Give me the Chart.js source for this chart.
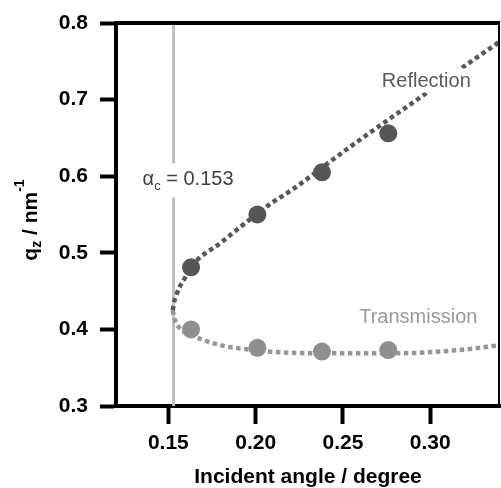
<!DOCTYPE html>
<html>
<head>
<meta charset="utf-8">
<script src="https://cdn.jsdelivr.net/npm/chart.js@4"></script>
<style>
  html, body { margin: 0; padding: 0; background: #fff; }
  canvas { display: block; }
</style>
</head>
<body>
<canvas id="chart" width="501" height="488"></canvas>
<script>
// measured peaks
const reflAngle = [0.163, 0.201, 0.238, 0.276];
const reflQz = [0.481, 0.550, 0.605, 0.656];
const transAngle = [0.163, 0.201, 0.238, 0.276];
const transQz = [0.400, 0.376, 0.371, 0.373];

// calculated branches
const reflCurveAngle = [0.1525, 0.1533, 0.1545, 0.1561, 0.1592, 0.1628, 0.1805, 0.2073, 0.2226, 0.2426, 0.2588, 0.2950, 0.3180, 0.3400];
const reflCurveQz = [0.425, 0.436, 0.444, 0.454, 0.466, 0.481, 0.514, 0.562, 0.585, 0.619, 0.646, 0.704, 0.741, 0.776];
const transCurveAngle = [0.1525, 0.1538, 0.1567, 0.1632, 0.1689, 0.1825, 0.1918, 0.2073, 0.2319, 0.2455, 0.2693, 0.2837, 0.3206, 0.3400];
const transCurveQz = [0.425, 0.412, 0.401, 0.393, 0.387, 0.378, 0.375, 0.371, 0.369, 0.369, 0.369, 0.369, 0.374, 0.3795];

const criticalAngle = 0.153;
const xTicks = [0.15, 0.20, 0.25, 0.30];
const yTicks = [0.3, 0.4, 0.5, 0.6, 0.7, 0.8];

const FONT = "'Liberation Sans', Arial, sans-serif";

function toPoints(xs, ys) {
    return xs.map((x, i) => ({ x: x, y: ys[i] }));
}

// centered label with a white patch behind it
function drawLabel(ctx, text, cx, base, color) {
    const w = ctx.measureText(text).width;
    ctx.fillStyle = '#fff';
    ctx.fillRect(cx - w / 2 - 2, base - 19, w + 4, 24);
    ctx.fillStyle = color;
    ctx.fillText(text, cx, base);
}

const annotations = {
    id: 'annotations',
    afterDatasetsDraw(chart) {
        const { ctx, chartArea, scales: { x, y } } = chart;
        ctx.save();

        // frame: top and right
        ctx.strokeStyle = '#000';
        ctx.lineWidth = 4;
        ctx.beginPath();
        ctx.moveTo(chartArea.left - 2, chartArea.top);
        ctx.lineTo(chartArea.right, chartArea.top);
        ctx.stroke();
        ctx.lineWidth = 2;
        ctx.beginPath();
        ctx.moveTo(chartArea.right - 1, chartArea.top);
        ctx.lineTo(chartArea.right - 1, chartArea.bottom);
        ctx.stroke();

        // alpha_c label over the critical angle line
        const lineX = x.getPixelForValue(criticalAngle);
        const base = y.getPixelForValue(0.588);
        let lx = lineX - 31;
        ctx.fillStyle = '#fff';
        ctx.fillRect(lx - 2, base - 22, 96, 34);
        ctx.fillStyle = '#404040';
        ctx.textBaseline = 'alphabetic';
        ctx.textAlign = 'left';
        ctx.font = '20px ' + FONT;
        ctx.fillText('α', lx, base);
        lx += ctx.measureText('α').width;
        ctx.font = '13px ' + FONT;
        ctx.fillText('c', lx, base + 5);
        lx += ctx.measureText('c').width;
        ctx.font = '20px ' + FONT;
        ctx.fillText(' = 0.153', lx, base);

        // branch labels
        ctx.textAlign = 'center';
        drawLabel(ctx, 'Reflection', x.getPixelForValue(0.2978), y.getPixelForValue(0.7158), '#5a5a5a');
        drawLabel(ctx, 'Transmission', x.getPixelForValue(0.2932), y.getPixelForValue(0.4085), '#999');

        ctx.restore();
    },
    afterDraw(chart) {
        // y title with sub/superscript
        const ctx = chart.ctx;
        const parts = [
            { t: 'q', size: 21, dy: 0 },
            { t: 'z', size: 14, dy: 4 },
            { t: ' / nm', size: 21, dy: 0 },
            { t: '-1', size: 14, dy: -13 }
        ];
        ctx.save();
        let total = 0;
        parts.forEach(p => {
            ctx.font = 'bold ' + p.size + 'px ' + FONT;
            p.w = ctx.measureText(p.t).width;
            total += p.w;
        });
        ctx.translate(37, 220 + total / 2);
        ctx.rotate(-Math.PI / 2);
        ctx.fillStyle = '#000';
        ctx.textBaseline = 'alphabetic';
        let pos = 0;
        parts.forEach(p => {
            ctx.font = 'bold ' + p.size + 'px ' + FONT;
            ctx.fillText(p.t, pos, p.dy);
            pos += p.w;
        });
        ctx.restore();
    }
};

new Chart(document.getElementById('chart'), {
    type: 'scatter',
    data: {
        datasets: [
            {
                label: 'Reflection',
                data: toPoints(reflAngle, reflQz),
                backgroundColor: '#555',
                borderWidth: 0,
                pointRadius: 9,
                order: 0
            },
            {
                label: 'Transmission',
                data: toPoints(transAngle, transQz),
                backgroundColor: '#8f8f8f',
                borderWidth: 0,
                pointRadius: 9,
                order: 0
            },
            {
                label: 'Reflection calc',
                data: toPoints(reflCurveAngle, reflCurveQz),
                showLine: true,
                pointRadius: 0,
                borderColor: '#585858',
                borderWidth: 4.5,
                borderDash: [4.5, 3.5],
                cubicInterpolationMode: 'monotone',
                order: 1
            },
            {
                label: 'Transmission calc',
                data: toPoints(transCurveAngle, transCurveQz),
                showLine: true,
                pointRadius: 0,
                borderColor: '#969696',
                borderWidth: 4.5,
                borderDash: [4.5, 3.5],
                cubicInterpolationMode: 'monotone',
                order: 1
            },
            {
                label: 'Critical angle',
                data: [{ x: criticalAngle, y: yTicks[0] }, { x: criticalAngle, y: yTicks[yTicks.length - 1] }],
                showLine: true,
                pointRadius: 0,
                borderColor: '#bfbfbf',
                borderWidth: 3,
                order: 2
            }
        ]
    },
    options: {
        responsive: false,
        animation: false,
        layout: {
            autoPadding: false,
            padding: { top: 23, right: 1, left: 0, bottom: 0 }
        },
        plugins: {
            legend: { display: false },
            tooltip: { enabled: false }
        },
        scales: {
            x: {
                type: 'linear',
                min: 0.12,
                max: 0.34,
                afterBuildTicks: s => { s.ticks = xTicks.map(v => ({ value: v })); },
                afterFit: s => {
                    s.height = 82;
                    s.paddingLeft = 0;
                    s.paddingRight = 0;
                },
                border: { display: true, width: 4, color: '#000' },
                grid: { drawOnChartArea: false, drawTicks: true, tickLength: 18, tickWidth: 4, tickColor: '#000' },
                ticks: {
                    padding: 7,
                    color: '#000',
                    font: { family: FONT, size: 21, weight: 'bold' },
                    callback: v => v.toFixed(2)
                },
                title: {
                    display: true,
                    text: 'Incident angle / degree',
                    color: '#000',
                    padding: 0,
                    font: { family: FONT, size: 21, weight: 'bold', lineHeight: 1 }
                }
            },
            y: {
                min: 0.3,
                max: 0.8,
                afterBuildTicks: s => { s.ticks = yTicks.map(v => ({ value: v })); },
                afterFit: s => {
                    s.width = 116;
                    s.paddingTop = 0;
                    s.paddingBottom = 0;
                },
                border: { display: true, width: 4, color: '#000' },
                grid: { drawOnChartArea: false, drawTicks: true, tickLength: 16, tickWidth: 4, tickColor: '#000' },
                ticks: {
                    padding: 12,
                    color: '#000',
                    font: { family: FONT, size: 21, weight: 'bold' },
                    callback: v => v.toFixed(1)
                }
            }
        }
    },
    plugins: [annotations]
});
</script>
</body>
</html>
